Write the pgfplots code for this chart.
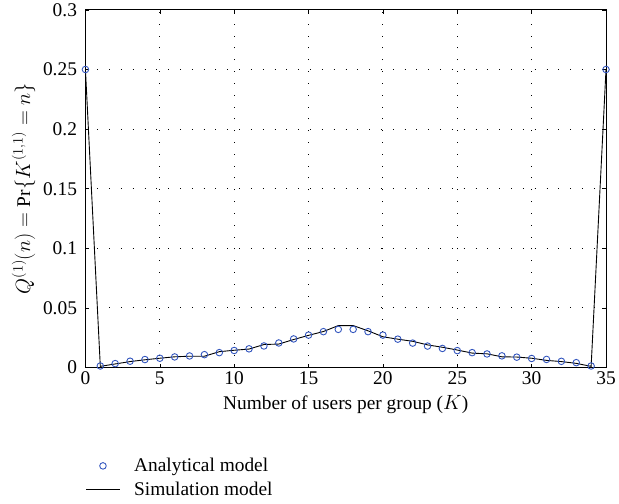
\documentclass[border=0pt]{standalone}
\usepackage{pgfplots}
\pgfplotsset{compat=1.18}
\usepackage{fontspec}
\setmainfont{Liberation Serif}
\definecolor{anablue}{RGB}{50,85,190}

\pgfplotsset{
  markleg/.style={legend image code/.code={%
    \draw[##1] plot[only marks] coordinates {(17pt,0pt)};
    \path[draw=none] (0pt,0pt) -- (34pt,0pt);}},
  lineleg/.style={legend image code/.code={%
    \draw[##1] (0pt,0pt) -- (34pt,0pt);}},
}

\pgfplotstableread{
n   q
0   0.25
1   0.0013
2   0.0033
3   0.0053
4   0.0067
5   0.0078
6   0.0089
7   0.0097
8   0.0108
9   0.0125
10  0.0143
11  0.0157
12  0.0181
13  0.0206
14  0.0240
15  0.0272
16  0.0301
17  0.0320
18  0.0320
19  0.0301
20  0.0272
21  0.0238
22  0.0205
23  0.0180
24  0.0160
25  0.0142
26  0.0125
27  0.0114
28  0.0098
29  0.0087
30  0.0076
31  0.0068
32  0.0052
33  0.0041
34  0.0013
35  0.25
}\analytical

\pgfplotstableread{
n   q
0   0.25
1   0.0010
2   0.0030
3   0.0050
4   0.0065
5   0.0078
6   0.0090
7   0.0095
8   0.0095
9   0.0133
10  0.0145
11  0.0155
12  0.0193
13  0.0197
14  0.0235
15  0.0270
16  0.0302
17  0.0352
18  0.0352
19  0.0308
20  0.0258
21  0.0238
22  0.0220
23  0.0190
24  0.0170
25  0.0147
26  0.0121
27  0.0115
28  0.0090
29  0.0088
30  0.0078
31  0.0060
32  0.0050
33  0.0035
34  0.0010
35  0.25
}\simulation

\begin{document}
\begin{tikzpicture}
\begin{axis}[
  scale only axis,
  width=524pt, height=360pt,
  xmin=0, xmax=35, ymin=0, ymax=0.3,
  xtick={0,5,...,35},
  ytick={0,0.05,0.1,0.15,0.2,0.25,0.3},
  yticklabels={0,0.05,0.1,0.15,0.2,0.25,0.3},
  tick align=inside,
  tick style={black, line width=0.6pt},
  major tick length=4pt,
  grid=major,
  major grid style={black, line width=0.9pt, dash pattern=on 0.9pt off 11pt},
  axis line style={black, line width=0.9pt},
  /pgf/number format/assume math mode=true,
  tick label style={font=\fontsize{19.5}{22}\selectfont},
  xticklabel style={yshift=-1pt},
  yticklabel style={xshift=-5pt},
  label style={font=\fontsize{19.5}{22}\selectfont},
  xlabel={Number of users per group ($K$)},
  ylabel={$Q^{(1)}(n) = \mathrm{Pr}\{K^{(1,1)} = n\}$},
  xlabel style={yshift=-4pt},
  ylabel style={yshift=1pt},
  legend style={at={(axis description cs:0,-0.248)}, anchor=north west,
    draw=none, fill=none, font=\fontsize{19.5}{22}\selectfont,
    inner sep=0pt, row sep=5pt,
    /tikz/every odd column/.append style={column sep=12pt}},
  legend cell align=left,
]
\addplot[only marks, mark=o, mark size=3.3pt,
  mark options={anablue, line width=0.9pt}, markleg]
  table[x=n, y=q] {\analytical};
\addlegendentry{Analytical model}
\addplot[black, line width=0.9pt, mark=none, lineleg]
  table[x=n, y=q] {\simulation};
\addlegendentry{Simulation model}
\end{axis}
% white margin to the left of the label and below the legend
\path ([xshift=-86pt]current axis.south west) -- ([yshift=-137pt]current axis.south west);
\end{tikzpicture}
\end{document}
